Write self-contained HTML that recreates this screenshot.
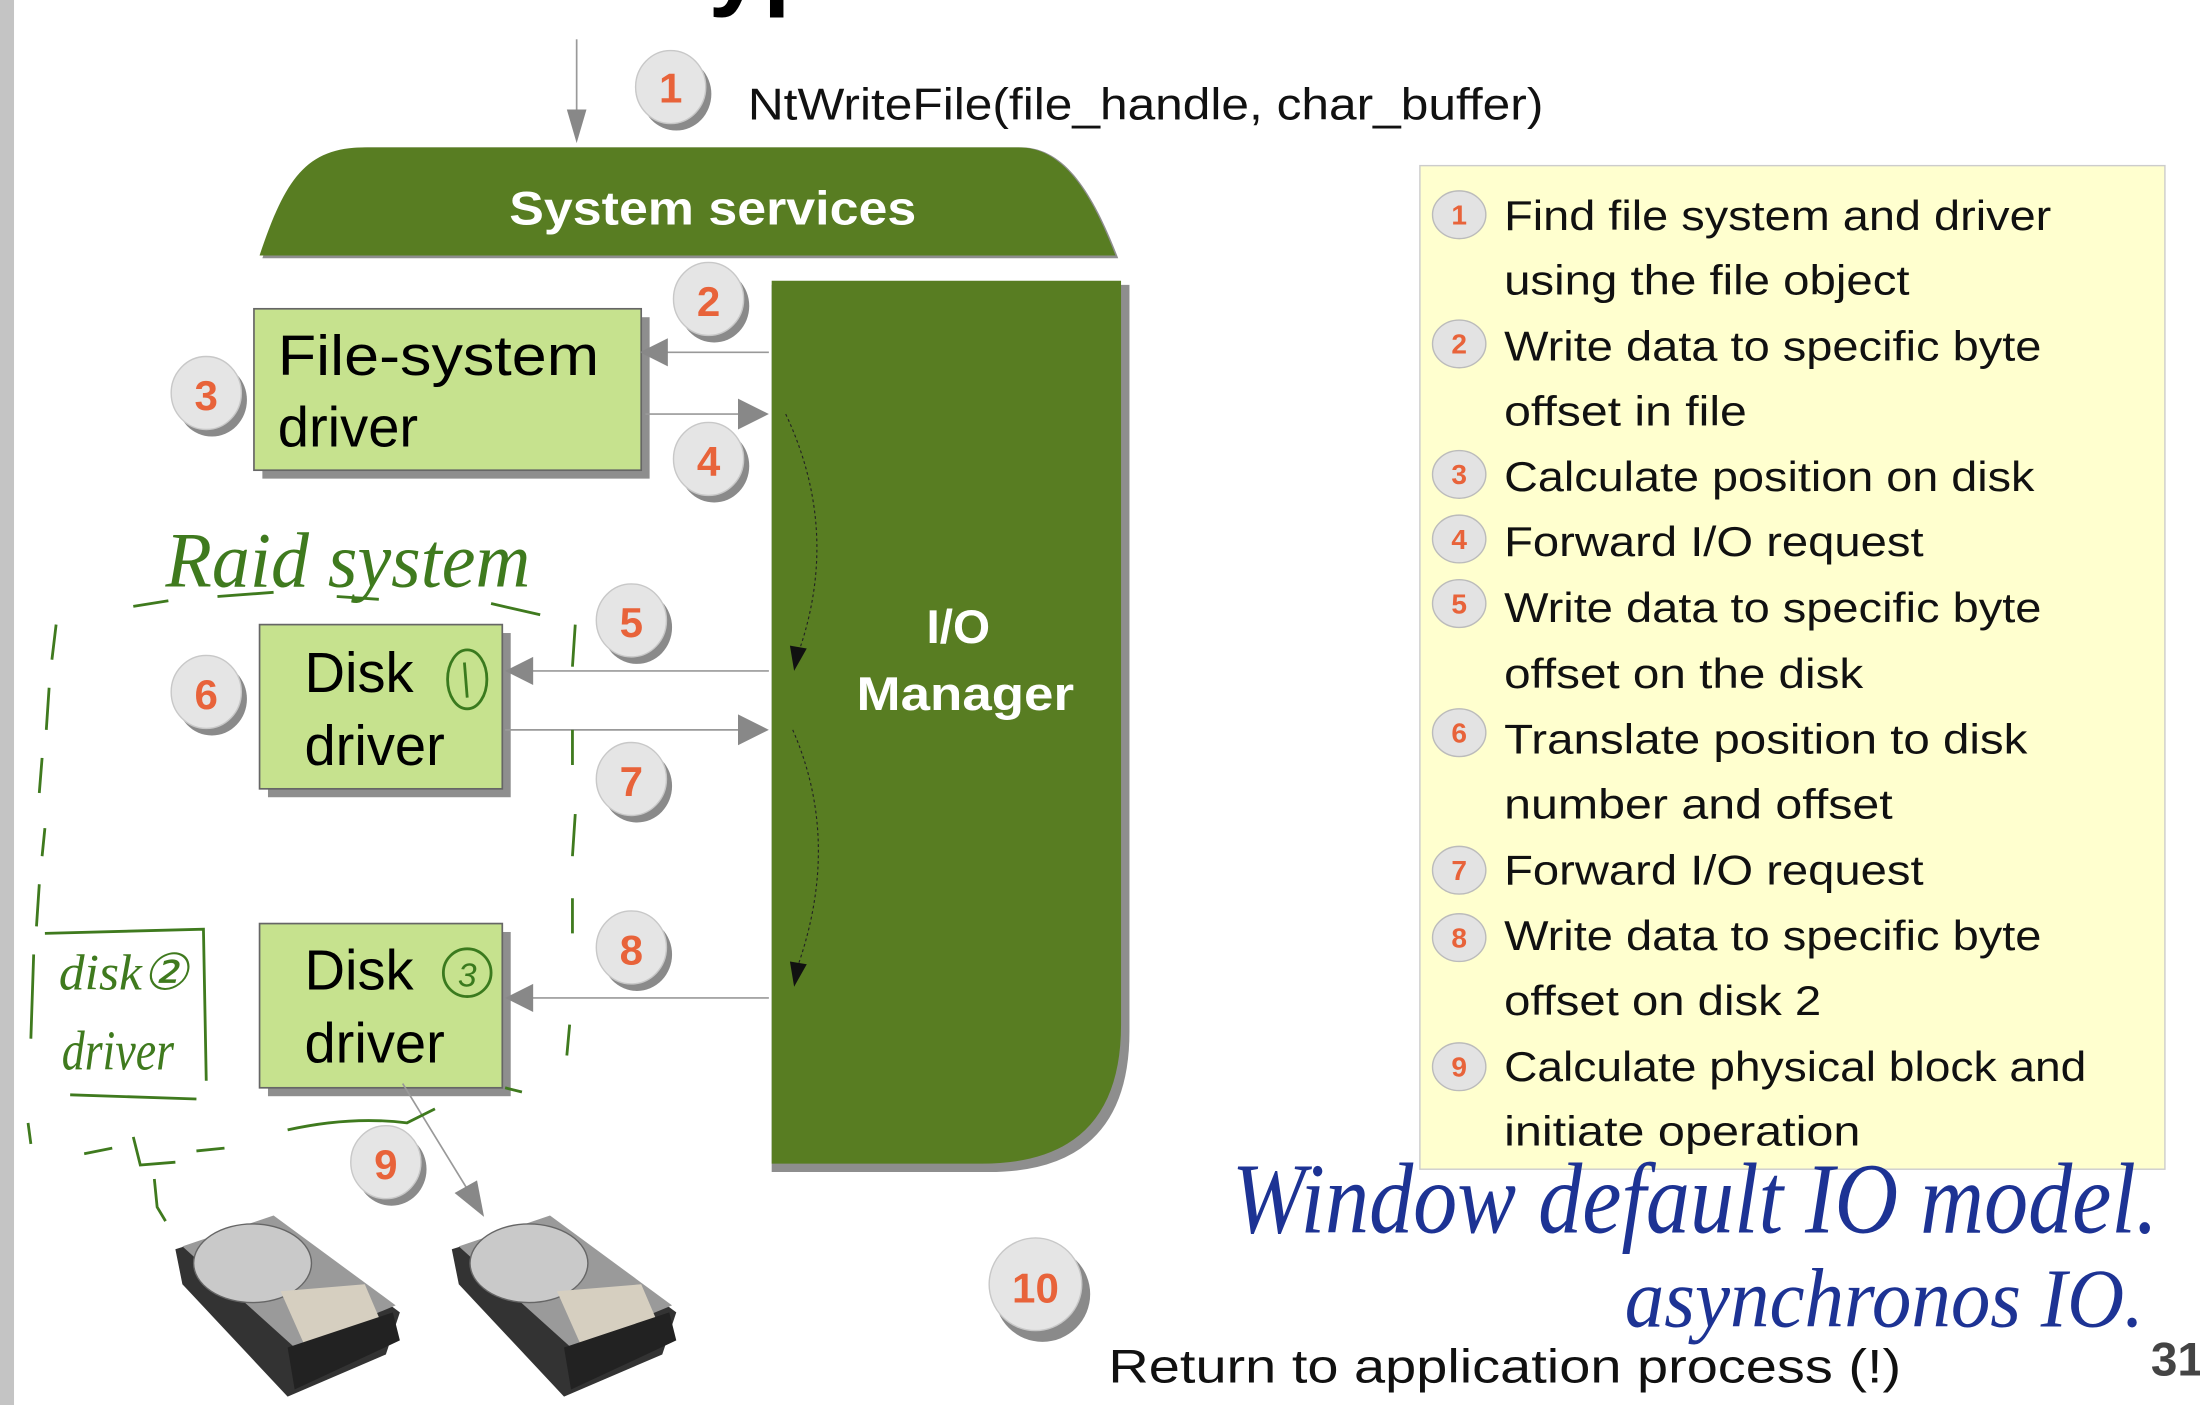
<!DOCTYPE html>
<html><head><meta charset="utf-8"><style>
html,body{margin:0;padding:0;background:#fff;overflow:hidden}
svg{display:block}
</style></head><body>
<svg width="2200" height="1405" viewBox="0 0 1568 1001" preserveAspectRatio="none" xmlns="http://www.w3.org/2000/svg" font-family="Liberation Sans, sans-serif">
<defs>
<g id="c"><ellipse cx="4" cy="5" rx="25" ry="26" fill="#8a8a8a"/><ellipse cx="0" cy="0" rx="25" ry="26" fill="#e5e5e5" stroke="#c8c8c8"/></g>
<g id="s"><ellipse cx="0" cy="0" rx="19" ry="17" fill="#e3e3e3" stroke="#bbb"/></g>
</defs>
<rect x="0" y="0" width="10" height="1001" fill="#c4c4c4"/>
<text x="505" y="-2" font-size="70" font-weight="bold" fill="#000">yp</text>

<!-- top arrow -->
<line x1="411" y1="28" x2="411" y2="88" stroke="#999" stroke-width="1.2"/>
<polygon points="404,78 418,78 411,102" fill="#888"/>
<use href="#c" x="478" y="62"/>
<text x="478" y="73" font-size="30" font-weight="bold" fill="#e8633a" text-anchor="middle">1</text>
<text x="533" y="85" font-size="32" fill="#111" textLength="567" lengthAdjust="spacingAndGlyphs">NtWriteFile(file_handle, char_buffer)</text>

<!-- system services -->
<path d="M187,184 C205,130 220,105 262,105 L728,105 C760,105 780,140 797,184 Z" fill="#8e8e8e"/>
<path d="M185,182 C203,128 218,105 260,105 L726,105 C758,105 778,138 795,182 Z" fill="#587d22"/>
<text x="508" y="160" font-size="34" font-weight="bold" fill="#fff" text-anchor="middle" textLength="290" lengthAdjust="spacingAndGlyphs">System services</text>

<!-- IO manager -->
<path d="M550,203 L805,203 L805,735 Q805,835 705,835 L550,835 Z" fill="#8e8e8e"/>
<path d="M550,200 L799,200 L799,730 Q799,829 700,829 L550,829 Z" fill="#587d22"/>
<text x="683" y="458" font-size="34" font-weight="bold" fill="#fff" text-anchor="middle">I/O</text>
<text x="688" y="506" font-size="34" font-weight="bold" fill="#fff" text-anchor="middle" textLength="155" lengthAdjust="spacingAndGlyphs">Manager</text>
<path d="M560,295 Q600,380 568,468" fill="none" stroke="#222" stroke-width="0.8" stroke-dasharray="2,2"/>
<polygon points="563,460 575,462 566,478" fill="#111"/>
<path d="M565,520 Q600,600 568,690" fill="none" stroke="#222" stroke-width="0.8" stroke-dasharray="2,2"/>
<polygon points="563,685 575,687 566,703" fill="#111"/>

<!-- file system driver -->
<rect x="187" y="226" width="276" height="115" fill="#8e8e8e"/>
<rect x="181" y="220" width="276" height="115" fill="#c6e28e" stroke="#666" stroke-width="1.2"/>
<text x="198" y="267" font-size="40" fill="#000" textLength="229" lengthAdjust="spacingAndGlyphs">File-system</text>
<text x="198" y="318" font-size="40" fill="#000">driver</text>
<line x1="548" y1="251" x2="470" y2="251" stroke="#999" stroke-width="1.2"/>
<polygon points="456,251 476,241 476,261" fill="#888"/>
<line x1="460" y1="295" x2="530" y2="295" stroke="#999" stroke-width="1.2"/>
<polygon points="548,295 526,284 526,306" fill="#888"/>
<use href="#c" x="505" y="213"/><text x="505" y="225" font-size="30" font-weight="bold" fill="#e8633a" text-anchor="middle">2</text>
<use href="#c" x="147" y="280"/><text x="147" y="292" font-size="30" font-weight="bold" fill="#e8633a" text-anchor="middle">3</text>
<use href="#c" x="505" y="327"/><text x="505" y="339" font-size="30" font-weight="bold" fill="#e8633a" text-anchor="middle">4</text>

<!-- disk driver 1 -->
<rect x="191" y="451" width="173" height="117" fill="#8e8e8e"/>
<rect x="185" y="445" width="173" height="117" fill="#c6e28e" stroke="#666" stroke-width="1.2"/>
<text x="217" y="493" font-size="40" fill="#000">Disk</text>
<text x="217" y="545" font-size="40" fill="#000">driver</text>
<ellipse cx="333" cy="484" rx="14" ry="21" fill="none" stroke="#3a7a1e" stroke-width="2"/>
<path d="M331,472 L333,497" stroke="#3a7a1e" stroke-width="2"/>
<line x1="548" y1="478" x2="375" y2="478" stroke="#999" stroke-width="1.2"/>
<polygon points="360,478 380,468 380,488" fill="#888"/>
<line x1="360" y1="520" x2="530" y2="520" stroke="#999" stroke-width="1.2"/>
<polygon points="548,520 526,509 526,531" fill="#888"/>
<use href="#c" x="450" y="442"/><text x="450" y="454" font-size="30" font-weight="bold" fill="#e8633a" text-anchor="middle">5</text>
<use href="#c" x="147" y="493"/><text x="147" y="505" font-size="30" font-weight="bold" fill="#e8633a" text-anchor="middle">6</text>
<use href="#c" x="450" y="555"/><text x="450" y="567" font-size="30" font-weight="bold" fill="#e8633a" text-anchor="middle">7</text>

<!-- disk driver 2 -->
<rect x="191" y="664" width="173" height="117" fill="#8e8e8e"/>
<rect x="185" y="658" width="173" height="117" fill="#c6e28e" stroke="#666" stroke-width="1.2"/>
<text x="217" y="705" font-size="40" fill="#000">Disk</text>
<text x="217" y="757" font-size="40" fill="#000">driver</text>
<circle cx="333" cy="693" r="17" fill="none" stroke="#3a7a1e" stroke-width="2"/>
<text x="333" y="703" font-size="24" fill="#3a7a1e" text-anchor="middle" font-style="italic">3</text>
<line x1="548" y1="711" x2="375" y2="711" stroke="#999" stroke-width="1.2"/>
<polygon points="360,711 380,701 380,721" fill="#888"/>
<use href="#c" x="450" y="675"/><text x="450" y="687" font-size="30" font-weight="bold" fill="#e8633a" text-anchor="middle">8</text>
<line x1="287" y1="772" x2="336" y2="852" stroke="#999" stroke-width="1.2"/>
<polygon points="345,867 324,850 340,841" fill="#888"/>
<use href="#c" x="275" y="828"/><text x="275" y="840" font-size="30" font-weight="bold" fill="#e8633a" text-anchor="middle">9</text>

<!-- disks -->
<g id="hd">
<polygon points="125,890 195,868 285,935 275,965 205,995 130,915" fill="#333"/>
<polygon points="130,888 195,866 282,930 210,960" fill="#9a9a9a"/>
<ellipse cx="180" cy="900" rx="42" ry="28" fill="#c9c9c9" stroke="#666"/>
<polygon points="200,920 260,915 275,950 220,965" fill="#d6cfc0"/>
<polygon points="205,960 280,935 285,955 210,990" fill="#222"/>
</g>
<use href="#hd" x="197" y="0"/>

<ellipse cx="743" cy="922" rx="34" ry="34" fill="#8a8a8a"/>
<ellipse cx="738" cy="915" rx="33" ry="33" fill="#e5e5e5" stroke="#c8c8c8"/>
<text x="738" y="928" font-size="30" font-weight="bold" fill="#e8633a" text-anchor="middle">10</text>
<text x="790" y="985" font-size="34" fill="#111" textLength="565" lengthAdjust="spacingAndGlyphs">Return to application process (!)</text>
<text x="1533" y="980" font-size="34" font-weight="bold" fill="#444">31</text>

<!-- yellow legend -->
<rect x="1012" y="118" width="531" height="715" fill="#ffffcf" stroke="#ccc" stroke-width="1"/>
<g font-size="30" fill="#111">
<text x="1072" y="164" textLength="390" lengthAdjust="spacingAndGlyphs">Find file system and driver</text>
<text x="1072" y="210" textLength="289" lengthAdjust="spacingAndGlyphs">using the file object</text>
<text x="1072" y="257" textLength="383" lengthAdjust="spacingAndGlyphs">Write data to specific byte</text>
<text x="1072" y="303" textLength="173" lengthAdjust="spacingAndGlyphs">offset in file</text>
<text x="1072" y="350" textLength="378" lengthAdjust="spacingAndGlyphs">Calculate position on disk</text>
<text x="1072" y="396" textLength="299" lengthAdjust="spacingAndGlyphs">Forward I/O request</text>
<text x="1072" y="443" textLength="383" lengthAdjust="spacingAndGlyphs">Write data to specific byte</text>
<text x="1072" y="490" textLength="256" lengthAdjust="spacingAndGlyphs">offset on the disk</text>
<text x="1072" y="537" textLength="373" lengthAdjust="spacingAndGlyphs">Translate position to disk</text>
<text x="1072" y="583" textLength="277" lengthAdjust="spacingAndGlyphs">number and offset</text>
<text x="1072" y="630" textLength="299" lengthAdjust="spacingAndGlyphs">Forward I/O request</text>
<text x="1072" y="677" textLength="383" lengthAdjust="spacingAndGlyphs">Write data to specific byte</text>
<text x="1072" y="723" textLength="226" lengthAdjust="spacingAndGlyphs">offset on disk 2</text>
<text x="1072" y="770" textLength="415" lengthAdjust="spacingAndGlyphs">Calculate physical block and</text>
<text x="1072" y="816" textLength="254" lengthAdjust="spacingAndGlyphs">initiate operation</text>
</g>
<g font-size="20" font-weight="bold" fill="#e8633a" text-anchor="middle">
<use href="#s" x="1040" y="153"/><text x="1040" y="160">1</text>
<use href="#s" x="1040" y="245"/><text x="1040" y="252">2</text>
<use href="#s" x="1040" y="338"/><text x="1040" y="345">3</text>
<use href="#s" x="1040" y="384"/><text x="1040" y="391">4</text>
<use href="#s" x="1040" y="430"/><text x="1040" y="437">5</text>
<use href="#s" x="1040" y="522"/><text x="1040" y="529">6</text>
<use href="#s" x="1040" y="620"/><text x="1040" y="627">7</text>
<use href="#s" x="1040" y="668"/><text x="1040" y="675">8</text>
<use href="#s" x="1040" y="760"/><text x="1040" y="767">9</text>
</g>

<!-- blue handwriting -->
<g fill="#1d3394" font-family="Liberation Serif, serif" font-style="italic">
<text x="878" y="878" font-size="72" textLength="660" lengthAdjust="spacingAndGlyphs">Window default IO model.</text>
<text x="1158" y="945" font-size="60" textLength="370" lengthAdjust="spacingAndGlyphs">asynchronos IO.</text>
</g>

<!-- green handwriting -->
<g fill="#3f7a1e" font-family="Liberation Serif, serif" font-style="italic">
<text x="118" y="418" font-size="56" textLength="260" lengthAdjust="spacingAndGlyphs">Raid system</text>
<text x="42" y="705" font-size="36" textLength="92" lengthAdjust="spacingAndGlyphs">disk②</text>
<text x="44" y="762" font-size="40" textLength="80" lengthAdjust="spacingAndGlyphs">driver</text>
</g>
<g fill="none" stroke="#3f7a1e" stroke-width="2">
<path d="M95,432 L120,428 M155,425 L195,422 M240,425 L270,427 M350,430 L385,438" />
<path d="M410,445 L408,475 M408,520 L408,545 M410,580 L408,610 M408,640 L408,665 M406,730 L404,752"/>
<path d="M40,445 L37,470 M35,490 L33,520 M30,540 L28,565 M32,590 L30,610 M28,630 L26,660 M24,680 L22,740 M20,800 L22,815"/>
<path d="M32,665 L145,662 L147,770 M50,780 L140,783"/>
<path d="M205,805 Q250,795 290,800 L310,790 M60,822 L80,818 M95,810 L100,830 L125,828 M140,820 L160,818 M360,775 L372,778"/>
<path d="M110,840 L112,860 L118,870"/>
</g>
</svg>
</body></html>
